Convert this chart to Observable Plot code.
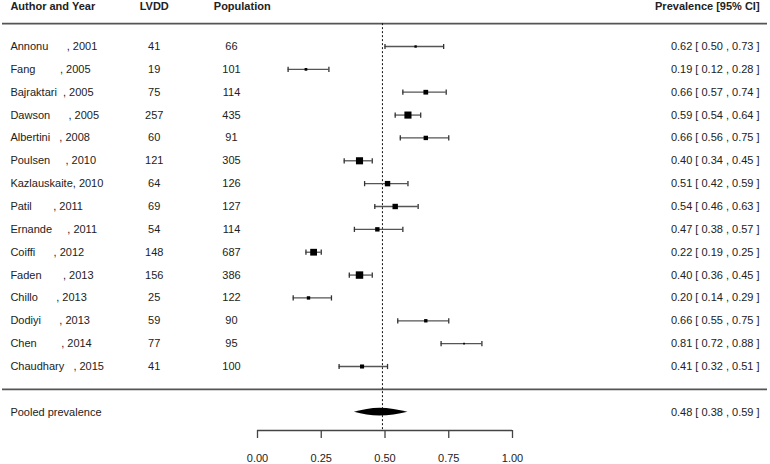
<!DOCTYPE html>
<html>
<head>
<meta charset="utf-8">
<script src="https://cdn.jsdelivr.net/npm/d3@7"></script>
<script src="https://cdn.jsdelivr.net/npm/@observablehq/plot@0.6"></script>
<style>
  html, body { margin: 0; padding: 0; background: #fff; }
  svg { display: block; }
</style>
</head>
<body>
<div id="chart"></div>
<script>
// ---- data ----
const authors = ["Annonu","Fang","Bajraktari","Dawson","Albertini","Poulsen","Kazlauskaite","Patil","Ernande","Coiffi","Faden","Chillo","Dodiyi","Chen","Chaudhary"];
const years = [2001,2005,2005,2005,2008,2010,2010,2011,2011,2012,2013,2013,2013,2014,2015];
const lvdd = [41,19,75,257,60,121,64,69,54,148,156,25,59,77,41];
const population = [66,101,114,435,91,305,126,127,114,687,386,122,90,95,100];
const prevalence = [0.62,0.19,0.66,0.59,0.66,0.40,0.51,0.54,0.47,0.22,0.40,0.20,0.66,0.81,0.41];
const lower = [0.50,0.12,0.57,0.54,0.56,0.34,0.42,0.46,0.38,0.19,0.36,0.14,0.55,0.72,0.32];
const upper = [0.73,0.28,0.74,0.64,0.75,0.45,0.59,0.63,0.57,0.25,0.45,0.29,0.75,0.88,0.51];
const weights = [3.5,4.0,7.0,10.5,6.5,10.5,8.0,8.0,6.5,10.0,11.0,5.0,5.0,2.5,6.0]; // relative study weights (estimated)
const pooledLabel = "Pooled prevalence";
const pooled = {est: 0.48, lo: 0.38, hi: 0.59};
const refLine = 0.49;
const headers = ["Author and Year","LVDD","Population","Prevalence [95% CI]"];
const xTicks = [0, 0.25, 0.5, 0.75, 1];

// column positions in x units (as in metafor's text columns)
const colAuthor = -0.969, colLvdd = -0.405, colPop = -0.102, colPopHead = -0.06, colRight = 1.969;
const headerRow = 16.75, topLineRow = 16, bottomLineRow = 0, pooledRow = -1, axisRow = -1.8;

const f2 = d3.format(".2f");
const nb = "\u00A0";
const rows = authors.map((a, i) => ({
  label: a.padEnd(12, nb) + "," + nb + years[i],
  lvdd: lvdd[i], pop: population[i],
  est: prevalence[i], lo: lower[i], hi: upper[i], w: weights[i],
  row: authors.length - i
}));
const ciText = (e, l, h) => `${f2(e)} [ ${f2(l)} , ${f2(h)} ]`.replace(/ /g, nb);

const capSymbol = {
  draw(context, size) {
    const s = Math.sqrt(size / Math.PI);
    context.moveTo(0, -s);
    context.lineTo(0, s);
  }
};

const diamond = [
  {x: pooled.lo, y1: pooledRow, y2: pooledRow},
  {x: pooled.est, y1: pooledRow - 0.17, y2: pooledRow + 0.17},
  {x: pooled.hi, y1: pooledRow, y2: pooledRow}
];

const font = "Liberation Sans, Arial, Helvetica, sans-serif";
const ink = "#222";

const chart = Plot.plot({
  width: 770,
  height: 464,
  marginTop: 0, marginRight: 0, marginLeft: 0, marginBottom: 34,
  style: {fontFamily: font, fontSize: "11px", color: ink, background: "#fff"},
  x: {domain: [-1, 2], range: [2, 767]},
  y: {domain: [15, 1], range: [46, 366], axis: null},
  r: {type: "linear", domain: [0, 11], range: [0, 4.2]},
  marks: [
    // header
    Plot.text([headers[0]], {x: () => colAuthor, y: () => headerRow, text: d => d, textAnchor: "start", fontWeight: "bold", fontSize: 11, fill: ink}),
    Plot.text([headers[1]], {x: () => colLvdd, y: () => headerRow, text: d => d, fontWeight: "bold", fontSize: 11, fill: ink}),
    Plot.text([headers[2]], {x: () => colPopHead, y: () => headerRow, text: d => d, fontWeight: "bold", fontSize: 11, fill: ink}),
    Plot.text([headers[3]], {x: () => colRight, y: () => headerRow, text: d => d, textAnchor: "end", fontWeight: "bold", fontSize: 11, fill: ink}),
    // separator lines
    Plot.ruleY([topLineRow, bottomLineRow], {x1: () => -1, x2: () => 2, stroke: "#555", strokeWidth: 1.8}),
    // reference line
    Plot.ruleX([refLine], {y1: () => topLineRow, y2: () => axisRow, stroke: "#111", strokeWidth: 1, strokeDasharray: "2,2"}),
    // CI lines and caps
    Plot.ruleY(rows, {y: "row", x1: "lo", x2: "hi", stroke: "#555", strokeWidth: 1.3}),
    Plot.dot(rows, {x: "lo", y: "row", r: 2.6, symbol: capSymbol, stroke: "#333", strokeWidth: 1.3, fill: "none"}),
    Plot.dot(rows, {x: "hi", y: "row", r: 2.6, symbol: capSymbol, stroke: "#333", strokeWidth: 1.3, fill: "none"}),
    // study squares
    Plot.dot(rows, {x: "est", y: "row", r: "w", symbol: "square", fill: "black", stroke: null}),
    // text columns
    Plot.text(rows, {x: () => colAuthor, y: "row", text: "label", textAnchor: "start", fontSize: 11, fill: ink}),
    Plot.text(rows, {x: () => colLvdd, y: "row", text: d => String(d.lvdd), fontSize: 11, fill: ink}),
    Plot.text(rows, {x: () => colPop, y: "row", text: d => String(d.pop), fontSize: 11, fill: ink}),
    Plot.text(rows, {x: () => colRight, y: "row", text: d => ciText(d.est, d.lo, d.hi), textAnchor: "end", fontSize: 11, fill: ink}),
    // pooled
    Plot.areaY(diamond, {x: "x", y1: "y1", y2: "y2", fill: "black", curve: "monotone-x"}),
    Plot.text([pooledLabel], {x: () => colAuthor, y: () => pooledRow, text: d => d, textAnchor: "start", fontSize: 11, fill: ink}),
    Plot.text([pooled], {x: () => colRight, y: () => pooledRow, text: d => ciText(d.est, d.lo, d.hi), textAnchor: "end", fontSize: 11, fill: ink}),
    // x axis
    Plot.ruleY([axisRow], {x1: () => xTicks[0], x2: () => xTicks[xTicks.length - 1], stroke: "#444", strokeWidth: 1.3}),
    Plot.axisX({ticks: xTicks, tickFormat: f2, tickSize: 8, tickPadding: 16, label: null, fontSize: 11, stroke: "#444", strokeWidth: 1.3, fill: ink})
  ]
});
document.getElementById("chart").appendChild(chart);
</script>
</body>
</html>
